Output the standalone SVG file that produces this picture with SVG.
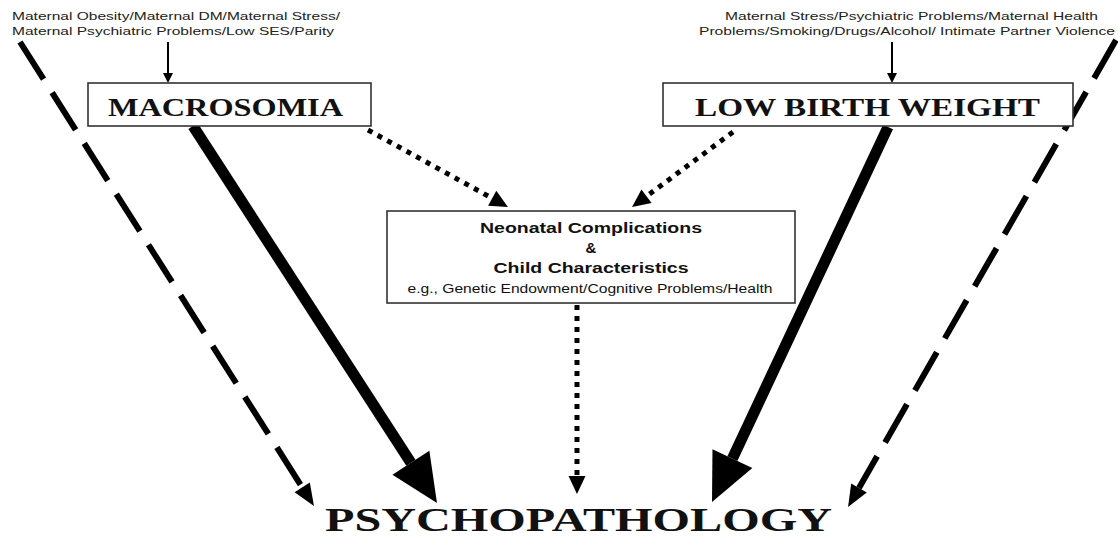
<svg xmlns="http://www.w3.org/2000/svg" width="1118" height="537" viewBox="0 0 1118 537">
<style>
.bg{fill:#fff}
.box{fill:#fff;stroke:#333;stroke-width:1.6}
.note{font-family:"Liberation Sans",Arial,sans-serif;font-size:11.5px;fill:#222}
.title{font-family:"Liberation Serif","Times New Roman",serif;font-weight:bold;fill:#111}
.neo{font-family:"Liberation Sans",Arial,sans-serif;fill:#111;text-anchor:middle}
.dash{fill:none;stroke:#000;stroke-width:6;stroke-dasharray:44 16}
.thick{fill:none;stroke:#000;stroke-width:11}
.dot{fill:none;stroke:#000;stroke-width:5;stroke-dasharray:5 6}
.thin{fill:none;stroke:#000;stroke-width:2}
</style>
<defs>
<marker id="hThick" markerUnits="userSpaceOnUse" orient="auto" refX="0" refY="0" markerWidth="60" markerHeight="60" overflow="visible"><path d="M0,-22 L48,0 L0,22 Z" fill="#000"/></marker>
<marker id="hDash" markerUnits="userSpaceOnUse" orient="auto" refX="0" refY="0" markerWidth="30" markerHeight="30" overflow="visible"><path d="M0,-9 L22,0 L0,9 Z" fill="#000"/></marker>
<marker id="hDot" markerUnits="userSpaceOnUse" orient="auto" refX="0" refY="0" markerWidth="30" markerHeight="30" overflow="visible"><path d="M0,-8.5 L18,0 L0,8.5 Z" fill="#000"/></marker>
<marker id="hSmall" markerUnits="userSpaceOnUse" orient="auto" refX="0" refY="0" markerWidth="20" markerHeight="20" overflow="visible"><path d="M0,-5 L10,0 L0,5 Z" fill="#000"/></marker>
</defs>
<rect class="bg" x="0" y="0" width="1118" height="537"/>

<g id="connectors">
<line class="dash" x1="20" y1="42" x2="302.2" y2="487.4" marker-end="url(#hDash)"/>
<line class="dash" x1="1116" y1="40" x2="859" y2="487.9" marker-end="url(#hDash)"/>
<line class="thick" x1="193" y1="126" x2="410.9" y2="462.7" marker-end="url(#hThick)"/>
<line class="thick" x1="888" y1="127" x2="732.4" y2="458.6" marker-end="url(#hThick)"/>
<line class="dot" x1="368" y1="130" x2="492.2" y2="198.3" marker-end="url(#hDot)"/>
<line class="dot" x1="733" y1="132" x2="646.5" y2="196.3" marker-end="url(#hDot)"/>
<line class="dot" x1="577" y1="305" x2="577" y2="476" marker-end="url(#hDot)"/>
<line class="thin" x1="168" y1="42" x2="168" y2="73" marker-end="url(#hSmall)"/>
<line class="thin" x1="892" y1="42" x2="892" y2="73" marker-end="url(#hSmall)"/>
</g>

<g id="macro-factors">
<text class="note" x="12" y="20" textLength="328" lengthAdjust="spacingAndGlyphs">Maternal Obesity/Maternal DM/Maternal Stress/</text>
<text class="note" x="12" y="35" textLength="322" lengthAdjust="spacingAndGlyphs">Maternal Psychiatric Problems/Low SES/Parity</text>
</g>

<g id="lbw-factors">
<text class="note" x="725" y="20" textLength="373" lengthAdjust="spacingAndGlyphs">Maternal Stress/Psychiatric Problems/Maternal Health</text>
<text class="note" x="699" y="35" textLength="416" lengthAdjust="spacingAndGlyphs">Problems/Smoking/Drugs/Alcohol/ Intimate Partner Violence</text>
</g>

<g id="macrosomia">
<rect class="box" x="88" y="83" width="283" height="43"/>
<text class="title" x="108" y="116" font-size="26" textLength="235" lengthAdjust="spacingAndGlyphs">MACROSOMIA</text>
</g>

<g id="low-birth-weight">
<rect class="box" x="663" y="83" width="410" height="43"/>
<text class="title" x="695" y="116" font-size="26" textLength="345" lengthAdjust="spacingAndGlyphs">LOW BIRTH WEIGHT</text>
</g>

<g id="neonatal">
<rect class="box" x="387" y="211" width="408" height="92"/>
<text class="neo" x="591" y="233" font-size="14" font-weight="bold" textLength="222" lengthAdjust="spacingAndGlyphs">Neonatal Complications</text>
<text class="neo" x="591" y="253" font-size="15" font-weight="bold">&amp;</text>
<text class="neo" x="591" y="273" font-size="15" font-weight="bold" textLength="195" lengthAdjust="spacingAndGlyphs">Child Characteristics</text>
<text class="neo" x="590" y="293" font-size="12.5" textLength="365" lengthAdjust="spacingAndGlyphs">e.g., Genetic Endowment/Cognitive Problems/Health</text>
</g>

<g id="psychopathology">
<text class="title" x="325" y="531" font-size="34" textLength="507" lengthAdjust="spacingAndGlyphs">PSYCHOPATHOLOGY</text>
</g>
</svg>
